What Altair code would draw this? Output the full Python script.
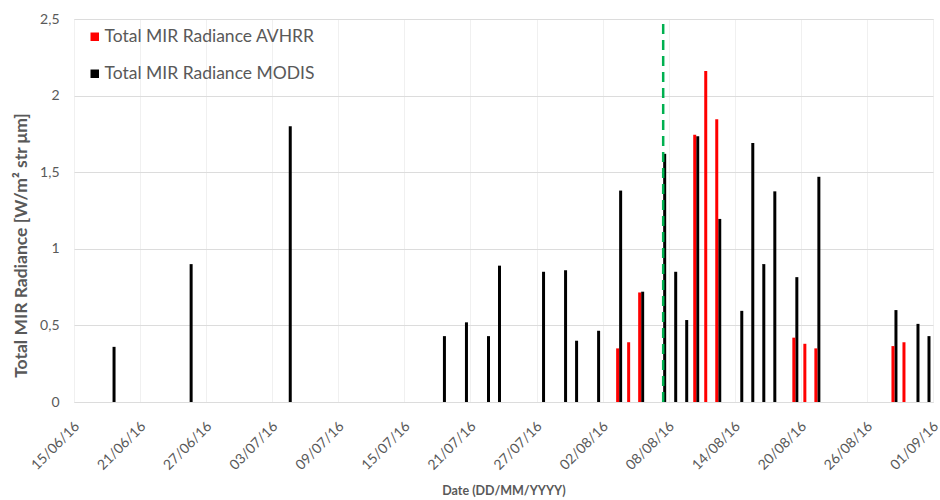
import altair as alt
import pandas as pd

FONT = "Lato"
GREY = "#595959"

series_names = ["Total MIR Radiance AVHRR", "Total MIR Radiance MODIS"]

avhrr_dates = ["2016-08-03", "2016-08-04", "2016-08-05", "2016-08-10", "2016-08-11",
               "2016-08-12", "2016-08-19", "2016-08-20", "2016-08-21", "2016-08-28",
               "2016-08-29"]
avhrr_values = [0.35, 0.39, 0.715, 1.745, 2.16, 1.845, 0.42, 0.38, 0.35, 0.365, 0.39]

modis_dates = ["2016-06-18", "2016-06-25", "2016-07-04", "2016-07-18", "2016-07-20",
               "2016-07-22", "2016-07-23", "2016-07-27", "2016-07-29", "2016-07-30",
               "2016-08-01", "2016-08-03", "2016-08-05", "2016-08-07", "2016-08-08",
               "2016-08-09", "2016-08-10", "2016-08-12", "2016-08-14", "2016-08-15",
               "2016-08-16", "2016-08-17", "2016-08-19", "2016-08-21", "2016-08-28",
               "2016-08-30", "2016-08-31"]
modis_values = [0.36, 0.90, 1.80, 0.43, 0.52, 0.43, 0.89, 0.85, 0.86, 0.40,
                0.465, 1.38, 0.72, 1.62, 0.85, 0.535, 1.735, 1.195, 0.595, 1.69,
                0.90, 1.375, 0.815, 1.47, 0.60, 0.51, 0.43]

event_date = ["2016-08-07"]
event_top = [2.47]

tick_dates = ["2016-06-15", "2016-06-21", "2016-06-27", "2016-07-03", "2016-07-09",
              "2016-07-15", "2016-07-21", "2016-07-27", "2016-08-02", "2016-08-08",
              "2016-08-14", "2016-08-20", "2016-08-26", "2016-09-01"]
y_ticks = [0, 0.5, 1, 1.5, 2, 2.5]


def dt(s):
    y, m, d = (int(p) for p in s.split("-"))
    return alt.DateTime(year=y, month=m, date=d)


df = pd.concat([
    pd.DataFrame({"date": [d + "T12:00:00" for d in avhrr_dates],
                  "value": avhrr_values, "series": series_names[0]}),
    pd.DataFrame({"date": [d + "T12:00:00" for d in modis_dates],
                  "value": modis_values, "series": series_names[1]}),
])

x = alt.X(
    "date:T",
    scale=alt.Scale(domain=[dt(tick_dates[0]), dt(tick_dates[-1])], padding=0),
    axis=alt.Axis(
        values=[dt(t) for t in tick_dates],
        labelExpr="timeFormat(datum.value, '%d/%m/%y')",
        labelAngle=-45, labelAlign="right", labelBaseline="middle",
        labelFont=FONT, labelFontSize=14, labelColor=GREY, labelPadding=22,
        labelOffset=3,
        grid=True, gridColor="#f0f0f0", domain=False, ticks=False,
        title="Date (DD/MM/YYYY)", titleFont=FONT, titleFontSize=12.5,
        titleFontWeight="bold", titleColor=GREY, titleY=88, titleBaseline="middle",
    ),
)
y = alt.Y(
    "value:Q",
    scale=alt.Scale(domain=[0, 2.5], nice=False),
    axis=alt.Axis(
        values=y_ticks,
        labelExpr="replace(format(datum.value, '~g'), '.', ',')",
        labelFont=FONT, labelFontSize=14, labelColor=GREY, labelPadding=15,
        grid=True, gridColor="#dcdcdc", domain=False, ticks=False,
        title="Total MIR Radiance  [W/m\u00b2 str \u03bcm]", titleFont=FONT,
        titleFontSize=17.5, titleFontWeight="bold", titleColor=GREY,
        titleX=-53, titleY=226, titleBaseline="middle", titleAngle=-90,
    ),
)
color = alt.Color(
    "series:N",
    scale=alt.Scale(domain=series_names, range=["#ff0000", "#000000"]),
    legend=alt.Legend(
        title=None, orient="none", legendX=12, legendY=9,
        symbolType="square", symbolSize=72, symbolStrokeWidth=0,
        labelFont=FONT, labelFontSize=17.5, labelColor=GREY, labelOffset=1,
        labelLimit=0, rowPadding=18,
    ),
)

base = alt.Chart(df).encode(x=x, y=y, color=color)
black = base.transform_filter(alt.datum.series == series_names[1]).mark_bar(width=3, xOffset=1.5)
red = base.transform_filter(alt.datum.series == series_names[0]).mark_bar(width=3, xOffset=-1.5)

rule = alt.Chart(pd.DataFrame({"date": [d + "T12:00:00" for d in event_date],
                               "y0": [0], "y1": event_top})).mark_rule(
    color="#00b050", strokeDash=[10, 6], strokeWidth=2.5
).encode(x="date:T", y="y0:Q", y2="y1:Q")

chart = alt.layer(black, red, rule).properties(
    width=859, height=383,
    padding={"left": 74, "top": 19, "right": 7, "bottom": 98},
    autosize="none",
).configure_view(stroke=None).configure(background="white")

chart.save("out.html", embed_options={"renderer": "svg", "actions": False})
